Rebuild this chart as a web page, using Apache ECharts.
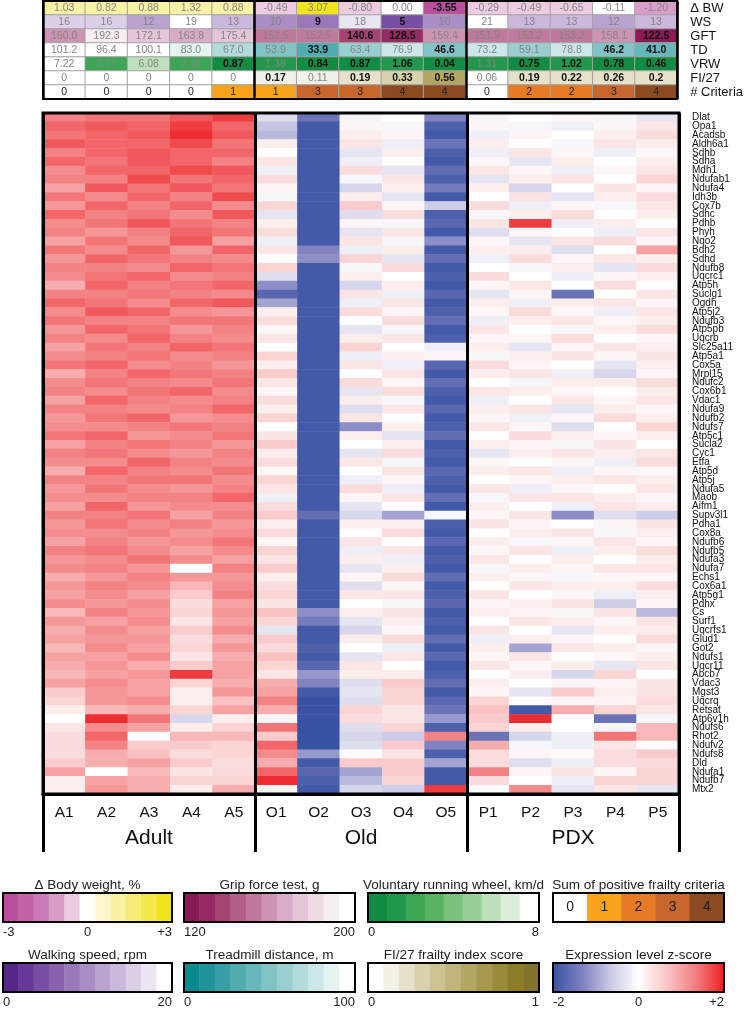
<!DOCTYPE html>
<html>
<head>
<meta charset="utf-8">
<script src="https://cdn.jsdelivr.net/npm/echarts@6/dist/echarts.min.js"></script>
<style>
html, body { margin: 0; padding: 0; background: #fff; }
#chart { width: 746px; height: 1012px; }
</style>
</head>
<body>
<div id="chart"></div>
<script>
// samples / groups
var samples = ['A1', 'A2', 'A3', 'A4', 'A5', 'O1', 'O2', 'O3', 'O4', 'O5', 'P1', 'P2', 'P3', 'P4', 'P5'];
var sampleGroups = ['Adult', 'Old', 'PDX'];
var metricNames = ['Δ BW', 'WS', 'GFT', 'TD', 'VRW', 'FI/27', '# Criteria'];

// frailty table values
var bwChange = [1.03, 0.82, 0.88, 1.32, 0.88, -0.49, 3.07, -0.80, 0.00, -3.55, -0.29, -0.49, -0.65, -0.11, -1.20];
var walkSpeed = [16, 16, 12, 19, 13, 10, 9, 18, 5, 10, 21, 13, 13, 12, 13];
var gripForce = [160.0, 192.3, 172.1, 163.8, 175.4, 152.5, 152.5, 140.6, 128.5, 159.4, 151.9, 153.2, 153.2, 158.1, 122.5];
var treadmill = [101.2, 96.4, 100.1, 83.0, 67.0, 53.9, 33.9, 63.4, 76.9, 46.6, 73.2, 59.1, 78.8, 46.2, 41.0];
var wheel = [7.22, 2.27, 6.08, 2.45, 0.87, 1.38, 0.84, 0.87, 1.06, 0.04, 1.31, 0.75, 1.02, 0.78, 0.46];
var frailtyIndex = [0, 0, 0, 0, 0, 0.17, 0.11, 0.19, 0.33, 0.56, 0.06, 0.19, 0.22, 0.26, 0.2];
var criteria = [0, 0, 0, 0, 1, 1, 3, 3, 4, 4, 0, 2, 2, 3, 4];

// positive criterion flags (bold numbers)
var bwFlag = [0, 0, 0, 0, 0, 0, 0, 0, 0, 1, 0, 0, 0, 0, 0];
var wsFlag = [0, 0, 0, 0, 0, 0, 1, 0, 1, 0, 0, 0, 0, 0, 0];
var gftFlag = [0, 0, 0, 0, 0, 0, 0, 1, 1, 0, 0, 0, 0, 0, 1];
var tdFlag = [0, 0, 0, 0, 0, 0, 1, 0, 0, 1, 0, 0, 0, 1, 1];
var vrwFlag = [0, 0, 0, 0, 1, 0, 1, 1, 1, 1, 0, 1, 1, 1, 1];
var fiFlag = [0, 0, 0, 0, 0, 1, 0, 1, 1, 1, 0, 1, 1, 1, 1];

var genes = ['Dlat', 'Opa1', 'Acadsb', 'Aldh6a1', 'Sdhb', 'Sdha', 'Mdh1', 'Ndufab1', 'Ndufa4', 'Idh3b',
    'Cox7b', 'Sdhc', 'Pdhb', 'Phyh', 'Nqo2', 'Bdh2', 'Sdhd', 'Ndufb8', 'Uqcrc1', 'Atp5h',
    'Suclg1', 'Ogdh', 'Atp5j2', 'Ndufb3', 'Atp5pb', 'Uqcrb', 'Slc25a11', 'Atp5a1', 'Cox5a', 'Mrpl15',
    'Ndufc2', 'Cox6b1', 'Vdac1', 'Ndufa9', 'Ndufb2', 'Ndufs7', 'Atp5c1', 'Sucla2', 'Cyc1', 'Etfa',
    'Atp5d', 'Atp5j', 'Ndufa5', 'Maob', 'Aifm1', 'Supv3l1', 'Pdha1', 'Cox8a', 'Ndufb6', 'Ndufb5',
    'Ndufa3', 'Ndufa7', 'Echs1', 'Cox6a1', 'Atp5g1', 'Pdhx', 'Cs', 'Surf1', 'Uqcrfs1', 'Glud1',
    'Got2', 'Ndufs1', 'Uqcr11', 'Abcb7', 'Vdac3', 'Mgst3', 'Uqcrq', 'Retsat', 'Atp6v1h', 'Ndufs6',
    'Rhot2', 'Ndufv2', 'Ndufs8', 'Dld', 'Ndufa1', 'Ndufb7', 'Mtx2'];

// expression z-scores, one row per gene
var adultZ = [
    [1.3, 1.4, 1.4, 1.6, 1.8], [1.5, 1.6, 1.5, 1.8, 1.5], [1.4, 1.5, 1.6, 1.9, 1.6], [1.6, 1.5, 1.5, 1.7, 1.4],
    [1.3, 1.5, 1.6, 1.5, 1.5], [1.5, 1.4, 1.6, 1.5, 1.3], [1.2, 1.5, 1.5, 1.7, 1.6], [1.3, 1.3, 1.7, 1.4, 1.5],
    [1.0, 1.6, 1.4, 1.6, 1.4], [1.4, 1.2, 1.5, 1.3, 1.7], [1.1, 1.5, 1.3, 1.5, 1.2], [1.5, 1.3, 1.4, 1.2, 1.6],
    [1.2, 1.4, 1.6, 1.4, 1.3], [1.3, 1.1, 1.3, 1.5, 1.4], [1.0, 1.4, 1.2, 1.6, 1.0], [1.4, 1.2, 1.5, 1.1, 1.5],
    [1.1, 1.5, 1.4, 1.3, 1.2], [1.3, 1.3, 1.2, 1.5, 1.4], [1.2, 1.4, 1.5, 1.2, 1.3], [0.9, 1.5, 1.3, 1.4, 1.5],
    [1.3, 1.3, 1.4, 1.3, 1.2], [1.5, 1.4, 1.2, 1.5, 1.6], [1.2, 1.6, 1.5, 1.2, 1.1], [1.4, 1.3, 1.3, 1.4, 1.4],
    [1.1, 1.5, 1.4, 1.1, 1.3], [1.3, 1.2, 1.5, 1.3, 1.2], [1.0, 1.4, 1.3, 1.5, 1.4], [1.2, 1.3, 1.4, 1.2, 1.3],
    [1.4, 1.5, 1.2, 1.3, 1.1], [0.9, 1.3, 1.5, 1.4, 1.3], [1.2, 1.4, 1.3, 1.2, 1.4], [1.3, 1.2, 1.4, 1.5, 1.2],
    [1.0, 1.5, 1.3, 1.2, 1.3], [1.3, 1.3, 1.2, 1.3, 1.5], [1.1, 1.4, 1.5, 1.1, 1.2], [1.2, 1.2, 1.3, 1.4, 1.3],
    [1.4, 1.5, 1.1, 1.2, 1.4], [1.0, 1.3, 1.4, 1.3, 1.1], [1.3, 1.4, 1.2, 1.1, 1.3], [1.2, 1.2, 1.5, 1.3, 1.2],
    [0.9, 1.5, 1.3, 1.2, 1.4], [1.3, 1.3, 1.4, 1.4, 1.2], [1.1, 1.4, 1.2, 1.1, 1.3], [1.2, 1.2, 1.3, 1.3, 1.5],
    [1.0, 1.5, 1.1, 1.2, 1.2], [1.3, 1.3, 1.4, 1.0, 1.3], [1.1, 1.4, 1.2, 1.3, 1.1], [1.2, 1.2, 1.3, 1.1, 1.2],
    [1.0, 1.3, 1.1, 1.2, 1.4], [1.3, 1.4, 1.2, 1.0, 1.2], [1.1, 1.2, 1.4, 1.2, 1.0], [1.2, 1.3, 1.1, 0.0, 1.3],
    [0.9, 1.1, 1.3, 1.1, 1.1], [1.1, 1.3, 1.2, 0.8, 1.2], [1.0, 1.2, 1.0, 0.6, 1.3], [1.2, 1.1, 1.2, 0.4, 1.0],
    [0.8, 1.3, 1.1, 0.5, 1.1], [1.1, 1.0, 1.2, 0.3, 1.0], [0.9, 1.2, 1.0, 0.6, 1.2], [1.0, 1.1, 1.1, 0.4, 0.9],
    [0.8, 1.2, 1.0, 0.5, 1.1], [1.0, 1.0, 1.2, 0.3, 0.9], [0.9, 1.1, 0.9, 0.6, 1.0], [0.8, 1.0, 1.1, 1.8, 1.0],
    [1.0, 1.2, 1.0, 0.5, 0.9], [0.6, 1.1, 1.0, 0.2, 1.1], [0.5, 1.1, 1.2, 0.2, 0.7], [0.2, 0.8, 0.9, 0.5, 1.0],
    [0.0, 1.9, 1.4, -0.5, 0.2], [0.3, 1.2, 1.0, 0.2, 0.5], [0.4, 1.5, 0.0, 0.8, 0.8], [0.4, 1.3, 0.6, 0.6, 0.5],
    [0.4, 0.9, 0.7, 0.4, 0.5], [0.6, 0.9, 1.0, 0.6, 0.4], [1.0, 0.0, 0.8, 0.3, 0.4], [0.2, 1.0, 0.9, 0.5, 0.5],
    [0.2, 1.1, 0.9, 0.2, 0.9]
];
var oldZ = [
    [-0.4, -1.5, -0.1, 0.0, -1.3], [-0.7, -1.9, 0.1, -0.1, -1.8], [-0.8, -1.9, 0.2, 0.1, -1.9], [0.2, -1.9, 0.3, -0.2, -1.5],
    [0.0, -1.9, -0.3, 0.2, -1.8], [0.3, -1.9, -0.2, 0.0, -1.9], [-0.2, -1.9, 0.4, -0.3, -1.6], [0.4, -1.9, -0.1, 0.3, -1.8],
    [0.1, -1.9, -0.5, 0.2, -1.4], [-0.1, -1.9, 0.2, -0.3, -1.9], [0.5, -1.9, 0.6, 0.1, -0.6], [-0.3, -1.9, -0.4, 0.4, -1.8],
    [0.2, -1.9, 0.1, -0.1, -1.7], [0.4, -1.9, -0.3, 0.3, -1.9], [-0.2, -1.9, 0.3, -0.1, -1.2], [0.3, -1.3, -0.2, 0.2, -1.9],
    [0.0, -1.2, 0.5, -0.3, -1.6], [0.5, -1.9, -0.1, 0.4, -1.9], [-0.4, -1.9, 0.2, 0.0, -1.8], [-1.2, -1.9, -0.5, 0.2, -1.9],
    [-1.7, -1.9, 0.3, -0.2, -1.7], [-1.0, -1.9, -0.2, 0.3, -1.9], [0.2, -1.9, 0.4, 0.1, -1.8], [0.4, -1.9, 0.0, 0.4, -1.6],
    [0.1, -1.9, -0.3, -0.1, -1.9], [0.3, -1.9, 0.2, 0.3, -1.8], [0.0, -1.9, 0.5, 0.0, -0.2], [0.5, -1.9, -0.2, 0.2, 0.1],
    [0.2, -1.9, 0.3, -0.2, -1.7], [0.6, -1.9, 0.0, 0.3, -1.9], [0.3, -1.9, 0.4, 0.1, -1.6], [0.1, -1.9, -0.3, 0.4, -1.8],
    [0.4, -1.9, 0.2, -0.1, -1.9], [0.2, -1.9, -0.4, 0.3, -1.7], [0.5, -1.9, 0.3, 0.0, -1.9], [0.0, -1.9, -1.2, 0.2, -1.8],
    [0.3, -1.9, 0.2, -0.3, -1.6], [0.6, -1.9, 0.0, 0.2, -1.9], [0.2, -1.9, -0.3, 0.4, -1.8], [0.4, -1.9, 0.3, -0.1, -1.9],
    [0.1, -1.9, 0.0, 0.3, -1.7], [0.5, -1.9, -0.2, 0.1, -1.8], [0.3, -1.9, 0.4, -0.2, -1.9], [-0.2, -1.9, 0.1, 0.3, -1.6],
    [0.4, -1.9, -0.3, 0.0, -1.9], [0.6, -1.6, -0.5, -1.0, -0.1], [0.2, -1.9, 0.2, 0.2, -1.8], [0.4, -1.9, 0.0, 0.4, -1.9],
    [0.1, -1.9, 0.3, 0.0, -1.7], [0.5, -1.9, -0.2, 0.3, -1.9], [0.3, -1.9, 0.2, -0.2, -1.8], [0.6, -1.9, -0.3, 0.2, -1.9],
    [0.2, -1.9, 0.1, 0.4, -1.6], [0.4, -1.9, -0.4, 0.1, -1.9], [0.5, -1.9, 0.3, 0.3, -1.8], [0.3, -1.9, 0.0, -0.1, -1.7],
    [0.7, -1.2, 0.2, 0.3, -1.9], [0.5, -1.4, -0.3, 0.2, -1.8], [-0.3, -1.9, -0.5, 0.1, -1.9], [0.6, -1.9, 0.2, 0.4, -1.6],
    [0.4, -1.8, 0.0, -0.2, -1.9], [0.7, -1.9, -0.3, 0.3, -1.7], [0.5, -1.7, 0.3, 0.0, -1.9], [0.3, -1.1, 0.2, 0.2, -1.8],
    [0.9, -1.3, -0.4, 0.6, -1.6], [1.0, -1.9, -0.3, 0.5, -1.9], [1.3, -2.0, -0.4, 0.5, -1.7], [0.9, -2.0, 0.5, 0.3, -1.5],
    [-0.1, -2.0, 0.4, 0.3, -1.1], [1.4, -2.0, -0.4, 0.5, -1.8], [0.6, -2.0, -0.5, -0.6, 1.3], [1.5, -2.0, -0.4, 0.6, -1.3],
    [1.2, -1.1, 0.05, 0.3, -1.8], [0.9, -1.9, 0.6, 0.6, -1.0], [1.5, -1.7, -1.0, 0.6, -1.9], [1.9, -1.8, -0.8, 0.5, -1.9],
    [0.1, -1.9, -0.5, -0.6, 1.8]
];
var pdxZ = [
    [-0.1, 0.0, 0.1, -0.1, -0.3], [0.1, -0.1, -0.2, 0.1, 0.3], [-0.2, 0.1, 0.0, 0.2, 0.4], [0.2, 0.0, -0.1, 0.3, 0.2],
    [-0.2, 0.3, 0.1, -0.2, 0.1], [0.1, -0.3, 0.2, 0.0, 0.2], [0.3, 0.1, -0.2, 0.1, 0.3], [-0.3, 0.2, 0.3, 0.0, 0.5],
    [0.2, -0.5, 0.0, 0.3, 0.1], [0.0, 0.3, -0.3, 0.2, 0.4], [0.4, -0.2, 0.1, -0.1, 0.3], [-0.1, 0.2, 0.4, 0.0, 0.2],
    [0.3, 1.8, -0.2, 0.2, 0.0], [-0.4, 0.1, 0.0, -0.2, 0.3], [0.1, -0.3, 0.3, 0.4, 0.1], [0.2, 0.2, -0.4, 0.0, 1.0],
    [-0.2, 0.4, 0.1, 0.3, 0.2], [0.0, -0.1, 0.2, -0.3, 0.4], [0.4, 0.0, -0.2, 0.1, 0.2], [0.1, 0.3, 0.0, 0.4, 0.0],
    [-0.3, 0.1, -1.5, 0.0, 0.3], [0.2, -0.2, 0.2, 0.3, 0.1], [0.1, 0.4, 0.1, -0.2, 0.3], [-0.2, 0.2, 0.3, 0.1, 0.2],
    [0.3, 0.0, -0.1, 0.2, 0.4], [0.1, 0.1, 0.4, 0.0, 0.1], [0.2, -0.3, 0.1, 0.3, 0.2], [-0.1, 0.2, 0.3, 0.1, 0.3],
    [0.4, 0.1, 0.0, -0.3, 0.2], [0.2, 0.3, -0.2, -0.5, 0.1], [0.0, -0.1, 0.2, 0.2, 0.4], [0.3, 0.2, 0.1, 0.0, 0.2],
    [-0.2, 0.0, 0.3, 0.1, 0.3], [0.2, 0.3, -0.3, 0.2, 0.1], [0.1, -0.2, 0.1, 0.4, 0.2], [0.3, 0.1, -0.4, 0.0, 0.5],
    [0.0, 0.4, 0.2, 0.1, 0.2], [0.2, 0.1, -0.1, 0.3, 0.0], [-0.3, 0.2, 0.3, 0.2, 0.3], [0.1, 0.0, 0.1, -0.2, 0.4],
    [0.2, 0.3, -0.2, 0.1, 0.1], [0.0, 0.1, 0.2, 0.3, 0.2], [0.3, -0.2, 0.1, 0.0, 0.3], [-0.1, 0.3, 0.3, 0.2, 0.1],
    [0.2, 0.0, -0.2, 0.3, 0.2], [0.1, 0.3, -1.2, -0.4, -0.6], [0.3, 0.1, 0.0, 0.1, 0.3], [0.0, 0.2, 0.3, -0.1, 0.2],
    [0.2, -0.1, 0.1, 0.3, 0.1], [0.1, 0.3, -0.2, 0.2, 0.4], [0.3, 0.0, 0.2, 0.0, 0.2], [-0.1, 0.2, 0.1, 0.3, 0.3],
    [0.2, 0.1, -0.1, 0.1, 0.1], [0.0, 0.3, 0.2, 0.2, 0.4], [0.3, 0.0, 0.1, -0.2, 0.2], [0.1, 0.2, 0.3, -0.6, 0.1],
    [0.2, 0.1, -0.1, 0.3, -0.8], [0.0, 0.3, 0.2, 0.1, 0.3], [0.3, 0.0, -0.3, 0.2, 0.2], [-0.2, 0.2, 0.1, 0.0, 0.4],
    [0.2, -1.0, 0.3, 0.2, 0.1], [0.1, 0.3, 0.0, 0.1, 0.2], [0.3, 0.1, 0.2, -0.3, 0.3], [0.0, 0.2, -0.5, 0.5, 0.0],
    [0.2, 0.0, 0.1, 0.1, 0.3], [0.1, -0.3, 0.6, 0.2, 0.3], [0.5, 0.05, 0.1, 0.15, 0.4], [0.7, -1.9, 0.9, 0.5, 0.3],
    [0.6, 1.9, 0.0, -1.5, -0.1], [0.5, 0.2, 0.0, -0.1, 0.8], [-1.5, -0.5, -0.2, 1.4, 0.8], [0.9, -0.1, -0.2, 0.3, 0.05],
    [0.4, 0.1, 0.05, 0.4, 0.6], [0.4, -0.4, -0.2, 0.4, 0.4], [1.3, 0.1, 0.3, 0.1, 0.5], [0.4, 0.0, -0.2, 0.5, 0.5],
    [0.0, 1.2, -0.3, 0.3, -0.3]
];

// legend tick labels
var bwTicks = [-3, 0, 3];
var gftTicks = [120, 200];
var vrwTicks = [0, 8];
var wsTicks = [0, 20];
var tdTicks = [0, 100];
var fiTicks = [0, 1];
var zTicks = [-2, 0, 2];
var criteriaLevels = [0, 1, 2, 3, 4];

// colour scales
var bwPalette = ['#b8509e', '#c262a9', '#cb7bb7', '#da9dca', '#eccbe1', '#ffffff', '#fbf6cc', '#f9f1a3', '#f7ec7a', '#f4e851', '#f1e41d'];
var wsPalette = ['#57288c', '#663997', '#774ea3', '#8862ae', '#9a78ba', '#aa8dc6', '#baa3d1', '#cbb9dd', '#dccfe8', '#ece5f2', '#ffffff'];
var gftPalette = ['#8a1a56', '#962a62', '#a54373', '#b25e88', '#c0799c', '#cc93b2', '#d8acc6', '#e4c6d8', '#eedbe6', '#f6eef3', '#ffffff'];
var tdPalette = ['#0b898c', '#219499', '#38a0a4', '#50acaf', '#68b8bb', '#81c4c6', '#9acfd1', '#b3dbdc', '#cce7e8', '#e5f3f3', '#ffffff'];
var vrwPalette = ['#138c43', '#21984b', '#3ba654', '#58b363', '#79c17c', '#9bcf99', '#bddfbb', '#dcefdb', '#ffffff'];
var fiPalette = ['#ffffff', '#f3f1e6', '#e6e1c9', '#d9d1ad', '#ccc292', '#c0b47a', '#b3a663', '#a6984d', '#9a8b3a', '#8d7d28', '#82722c'];
var critPalette = ['#ffffff', '#f7a31c', '#e77a25', '#c7662d', '#8b4a22'];
var zColors = ['#3953a4', '#7d7fbf', '#c8c8e5', '#ffffff', '#f9c5c6', '#f37e80', '#ed1f24'];

var FONT = '"Liberation Sans", Arial, sans-serif';

function binColor(v, min, max, pal) {
    var i = Math.floor((v - min) / (max - min) * pal.length);
    i = Math.max(0, Math.min(pal.length - 1, i));
    return pal[i];
}
function plusSign(v) {
    return v > 0 ? '+' + v : String(v);
}

var chart = echarts.init(document.getElementById('chart'));

var grids = [], xAxes = [], yAxes = [], series = [];

// ---- frailty table ----
var tableRows = [
    { vals: bwChange, flag: bwFlag, pal: bwPalette, min: -3, max: 3, fmt: function (v) { return v.toFixed(2); } },
    { vals: walkSpeed, flag: wsFlag, pal: wsPalette, min: 0, max: 20, fmt: function (v) { return String(v); } },
    { vals: gripForce, flag: gftFlag, pal: gftPalette, min: 120, max: 200, fmt: function (v) { return v.toFixed(1); } },
    { vals: treadmill, flag: tdFlag, pal: tdPalette, min: 0, max: 100, fmt: function (v) { return v.toFixed(1); } },
    { vals: wheel, flag: vrwFlag, pal: vrwPalette, min: 0, max: 8, fmt: function (v) { return v.toFixed(2); } },
    { vals: frailtyIndex, flag: fiFlag, pal: fiPalette, min: 0, max: 1, fmt: function (v) { return String(v); } }
];
var tableData = [];
tableRows.forEach(function (row, r) {
    row.vals.forEach(function (v, c) {
        var bold = row.flag[c] === 1;
        tableData.push({
            value: [c, r, v],
            txt: row.fmt(v),
            itemStyle: { color: binColor(v, row.min, row.max, row.pal) },
            label: { color: bold ? '#111' : '#858585', fontWeight: bold ? 'bold' : 'normal' }
        });
    });
});
criteria.forEach(function (v, c) {
    tableData.push({
        value: [c, 6, v],
        txt: String(v),
        itemStyle: { color: critPalette[v] },
        label: { color: '#222' }
    });
});

grids.push({ left: 43, top: 1, width: 636, height: 98, show: true, borderColor: '#000', borderWidth: 2, backgroundColor: 'transparent', z: 5 });
xAxes.push({ gridIndex: 0, type: 'category', data: samples, axisLine: { show: false }, axisTick: { show: false }, axisLabel: { show: false } });
xAxes.push({
    gridIndex: 0, type: 'category', data: sampleGroups, z: 6,
    axisLine: { show: false }, axisTick: { show: false }, axisLabel: { show: false },
    splitLine: { show: true, lineStyle: { color: '#000', width: 2.5 } }
});
yAxes.push({
    gridIndex: 0, type: 'category', data: metricNames, inverse: true, position: 'right',
    axisLine: { show: false }, axisTick: { show: false },
    axisLabel: { interval: 0, margin: 13, fontSize: 13, color: '#111', fontFamily: FONT }
});
series.push({
    type: 'heatmap', xAxisIndex: 0, yAxisIndex: 0, data: tableData,
    itemStyle: { borderColor: '#a3a3a3', borderWidth: 1 },
    label: { show: true, fontSize: 10.5, fontFamily: FONT, formatter: function (p) { return p.data.txt; } }
});

// ---- expression heatmap ----
var heatData = [];
genes.forEach(function (g, r) {
    var row = adultZ[r].concat(oldZ[r], pdxZ[r]);
    row.forEach(function (z, c) { heatData.push([c, r, z]); });
});
grids.push({ left: 43, top: 113, width: 636, height: 681, show: true, borderColor: '#000', borderWidth: 3, backgroundColor: 'transparent', z: 5 });
xAxes.push({
    gridIndex: 1, type: 'category', data: samples, position: 'bottom',
    axisLine: { show: false }, axisTick: { show: false },
    axisLabel: { margin: 11, fontSize: 15.5, color: '#111', fontFamily: FONT }
});
xAxes.push({
    gridIndex: 1, type: 'category', data: sampleGroups, position: 'bottom', z: 6,
    axisLine: { show: true, lineStyle: { color: '#000', width: 3 } },
    axisTick: { show: true, length: 58, lineStyle: { color: '#000', width: 3 } },
    axisLabel: { margin: 34, fontSize: 21, color: '#111', fontFamily: FONT },
    splitLine: { show: true, lineStyle: { color: '#000', width: 3 } }
});
yAxes.push({
    gridIndex: 1, type: 'category', data: genes, inverse: true, position: 'right',
    axisLine: { show: false }, axisTick: { show: false },
    axisLabel: { interval: 0, margin: 13, fontSize: 10, color: '#111', fontFamily: FONT }
});
var heatSeriesIndex = series.length;
series.push({ type: 'heatmap', xAxisIndex: 2, yAxisIndex: 1, data: heatData });

// ---- legends ----
function addLegend(opt) {
    var gi = grids.length;
    grids.push({ left: opt.left, top: opt.top, width: 171, height: 29, show: true, borderColor: '#000', borderWidth: 2, backgroundColor: 'transparent', z: 5 });
    var xi = xAxes.length;
    xAxes.push({
        gridIndex: gi, type: 'category', data: opt.colors.map(function (c, i) { return i; }), position: 'top',
        name: opt.title, nameLocation: 'middle', nameGap: 1,
        nameTextStyle: { fontSize: 13.5, color: '#222', fontFamily: FONT, verticalAlign: 'bottom' },
        axisLine: { show: false }, axisTick: { show: false }, axisLabel: { show: false }
    });
    if (opt.ticks) {
        xAxes.push({
            gridIndex: gi, type: 'value', position: 'bottom', min: opt.ticks[0], max: opt.ticks[opt.ticks.length - 1],
            axisLine: { show: false }, axisTick: { show: false }, splitLine: { show: false },
            axisLabel: {
                customValues: opt.ticks, alignMinLabel: 'left', alignMaxLabel: 'right',
                margin: 4, fontSize: 13, color: '#222', fontFamily: FONT,
                formatter: opt.signed ? plusSign : function (v) { return String(v); }
            }
        });
    }
    var yi = yAxes.length;
    yAxes.push({ gridIndex: gi, type: 'category', data: [''], show: false });
    series.push({
        type: 'heatmap', xAxisIndex: xi, yAxisIndex: yi,
        data: opt.colors.map(function (c, i) {
            return { value: [i, 0, i], txt: opt.cellText ? String(opt.cellText[i]) : '', itemStyle: { color: c } };
        }),
        label: { show: !!opt.cellText, fontSize: 14, color: '#222', fontFamily: FONT, formatter: function (p) { return p.data.txt; } }
    });
}

addLegend({ left: 1, top: 893, title: 'Δ Body weight, %', colors: bwPalette, ticks: bwTicks, signed: true });
addLegend({ left: 184, top: 893, title: 'Grip force test, g', colors: gftPalette, ticks: gftTicks });
addLegend({ left: 368, top: 893, title: 'Voluntary running wheel, km/d', colors: vrwPalette, ticks: vrwTicks });
addLegend({ left: 553, top: 893, title: 'Sum of positive frailty criteria', colors: critPalette, cellText: criteriaLevels });
addLegend({ left: 1, top: 963, title: 'Walking speed, rpm', colors: wsPalette, ticks: wsTicks });
addLegend({ left: 184, top: 963, title: 'Treadmill distance, m', colors: tdPalette, ticks: tdTicks });
addLegend({ left: 368, top: 963, title: 'FI/27 frailty index score', colors: fiPalette, ticks: fiTicks });
addLegend({
    left: 553, top: 963, title: 'Expression level z-score', ticks: zTicks, signed: true,
    colors: [{
        type: 'linear', x: 0, y: 0, x2: 1, y2: 0,
        colorStops: zColors.map(function (c, i) { return { offset: i / (zColors.length - 1), color: c }; })
    }]
});

chart.setOption({
    animation: false,
    backgroundColor: '#fff',
    grid: grids,
    xAxis: xAxes,
    yAxis: yAxes,
    visualMap: [{
        type: 'continuous', show: false, min: -2, max: 2, seriesIndex: heatSeriesIndex,
        inRange: { color: zColors }
    }],
    series: series
});
</script>
</body>
</html>
